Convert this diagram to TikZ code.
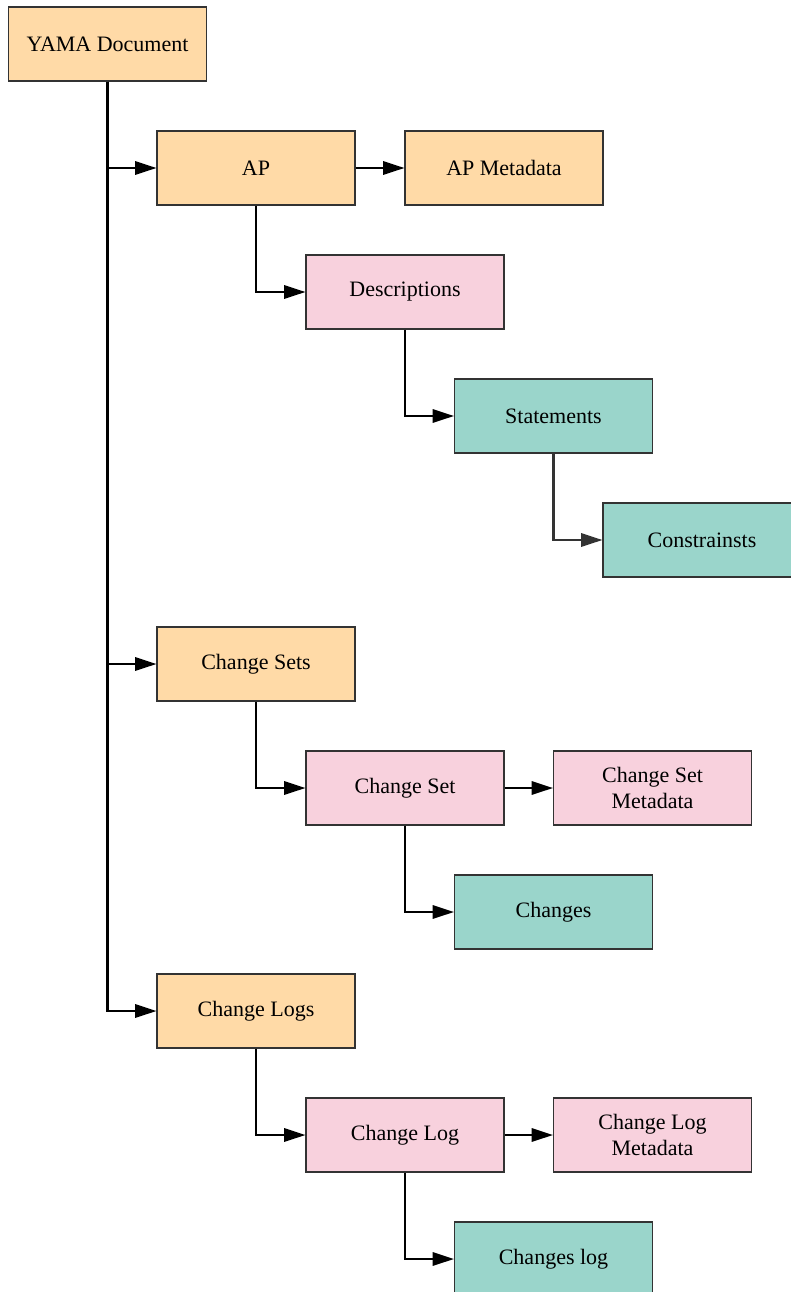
\documentclass[tikz,border=0pt]{standalone}
\usepackage{fontspec}
\setmainfont{Liberation Serif}
\usetikzlibrary{arrows.meta}

\definecolor{yamaorange}{HTML}{FFDAA7}
\definecolor{yamapink}{HTML}{F8D1DD}
\definecolor{yamateal}{HTML}{9AD5CB}

\tikzset{
	box/.style={draw=black!80, line width=0.8pt, minimum width=148.5pt, minimum height=55.5pt, align=center, font=\fontsize{16.5}{19.5}\selectfont, inner sep=2pt},
	orangebox/.style={box, fill=yamaorange},
	pinkbox/.style={box, fill=yamapink},
	tealbox/.style={box, fill=yamateal},
	link/.style={line width=1.6pt, -{Triangle[length=16pt,width=10pt]}},
}

\begin{document}
\begin{tikzpicture}[x=0.75pt, y=-0.75pt]
		%%%%% START %%%%%
		\useasboundingbox (0, 0) rectangle (791, 1292);
		
		\node[orangebox] (yama) at (107.5, 44) {YAMA Document};
		
		\node[orangebox] (ap) at (256, 168) {AP};
		\node[orangebox] (apmeta) at (504, 168) {AP Metadata};
		\node[pinkbox] (desc) at (405, 292) {Descriptions};
		\node[tealbox] (stmts) at (553.5, 416) {Statements};
		\node[tealbox] (constr) at (702, 540) {Constrainsts};
		
		\node[orangebox] (csets) at (256, 664) {Change Sets};
		\node[pinkbox] (cset) at (405, 788) {Change Set};
		\node[pinkbox] (csetmeta) at (652.5, 788) {Change Set\\Metadata};
		\node[tealbox] (changes) at (553.5, 912) {Changes};
		
		\node[orangebox] (clogs) at (256, 1011) {Change Logs};
		\node[pinkbox] (clog) at (405, 1135) {Change Log};
		\node[pinkbox] (clogmeta) at (652.5, 1135) {Change Log\\Metadata};
		\node[tealbox] (changeslog) at (553.5, 1259) {Changes log};
		
		% trunk
		\draw[link] (yama.south) |- (ap.west);
		\draw[link] (yama.south) |- (csets.west);
		\draw[link] (yama.south) |- (clogs.west);
		
		% AP branch
		\draw[link] (ap.east) -- (apmeta.west);
		\draw[link] (ap.south) |- (desc.west);
		\draw[link] (desc.south) |- (stmts.west);
		\draw[link, color=black!80] (stmts.south) |- (constr.west);
		
		% change sets
		\draw[link] (csets.south) |- (cset.west);
		\draw[link] (cset.east) -- (csetmeta.west);
		\draw[link] (cset.south) |- (changes.west);
		
		% change logs
		\draw[link] (clogs.south) |- (clog.west);
		\draw[link] (clog.east) -- (clogmeta.west);
		\draw[link] (clog.south) |- (changeslog.west);
		
		%%%%% END %%%%%
	\end{tikzpicture}
\end{document}
